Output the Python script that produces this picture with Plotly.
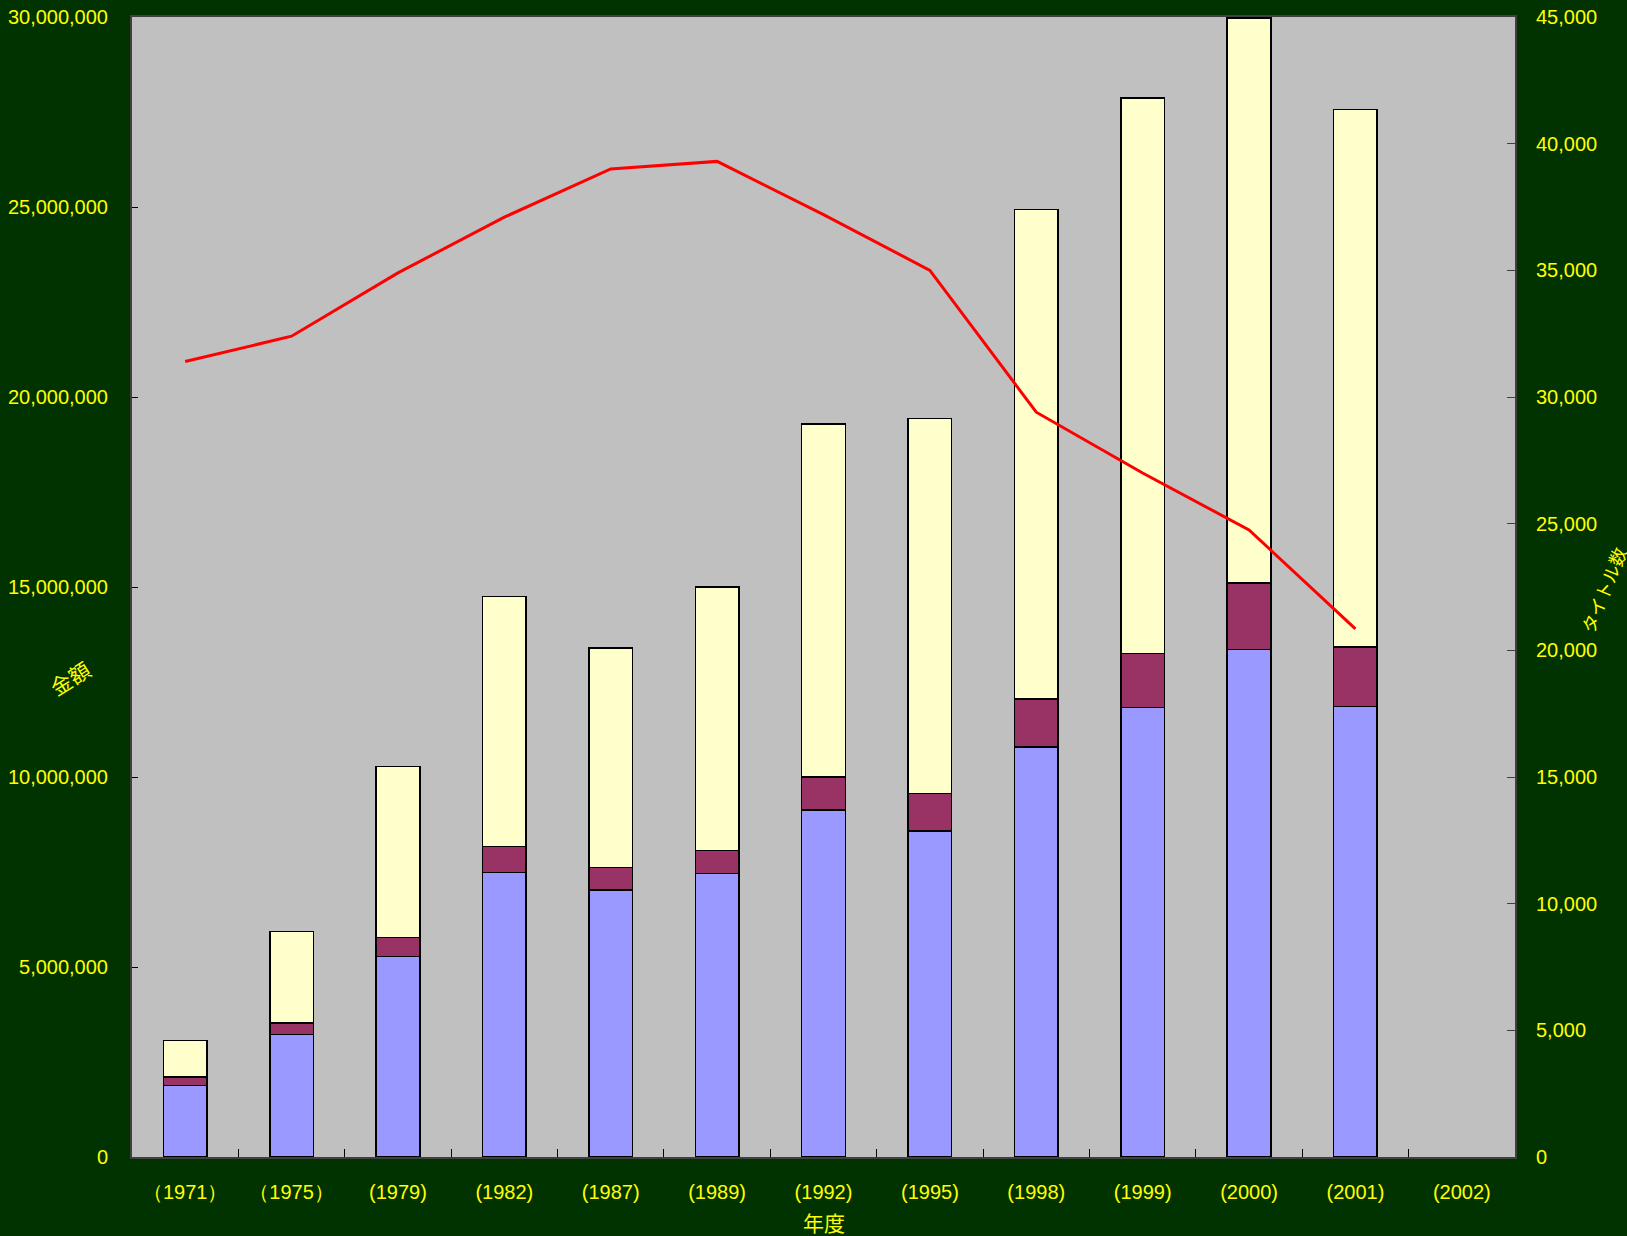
import plotly.graph_objects as go

years = ["（1971）", "（1975）", "(1979)", "(1982)", "(1987)", "(1989)", "(1992)",
         "(1995)", "(1998)", "(1999)", "(2000)", "(2001)", "(2002)"]

# cumulative tops
blue_top = [1885000, 3220000, 5270000, 7490000, 7020000, 7460000, 9130000,
            8580000, 10790000, 11830000, 13360000, 11860000, None]
maroon_top = [2100000, 3520000, 5770000, 8170000, 7620000, 8060000, 10000000,
              9560000, 12050000, 13250000, 15110000, 13420000, None]
yellow_top = [3060000, 5930000, 10270000, 14750000, 13390000, 15000000, 19290000,
              19430000, 24940000, 27870000, 29970000, 27570000, None]

titles = [31400, 32400, 34900, 37100, 39000, 39300, 37200,
          35000, 29400, 27000, 24750, 20850]

seg_blue = blue_top
seg_maroon = [None if m is None else m - b for m, b in zip(maroon_top, blue_top)]
seg_yellow = [None if y is None else y - m for y, m in zip(yellow_top, maroon_top)]

fig = go.Figure()
for vals, col in [(seg_blue, "#9999FF"), (seg_maroon, "#993366"), (seg_yellow, "#FFFFCC")]:
    fig.add_trace(go.Bar(x=years, y=vals, marker=dict(color=col, line=dict(color="#000000", width=1.5)),
                         showlegend=False))

fig.add_trace(go.Scatter(x=years[:12], y=titles, yaxis="y2", mode="lines",
                         line=dict(color="#FF0000", width=3), showlegend=False))

yellow = "#FFFF00"
fnt = dict(family="Liberation Sans, Arial, sans-serif", size=20, color=yellow)

fig.update_layout(
    width=1627, height=1236,
    margin=dict(l=132, r=112, t=17, b=79, autoexpand=False),
    paper_bgcolor="#003300", plot_bgcolor="#C0C0C0",
    barmode="stack", bargap=0.59,
    font=fnt,
    xaxis=dict(type="category", categoryorder="array", categoryarray=years,
               showgrid=False, ticks="inside", tickson="boundaries", ticklen=8,
               tickcolor="#000000", showline=True, linecolor="#404040", linewidth=2,
               mirror=True, tickfont=fnt, ticklabelstandoff=16, automargin=False),
    yaxis=dict(range=[0, 30000000], dtick=5000000, tickformat=",", showgrid=False,
               zeroline=False, ticks="inside", ticklen=6, tickcolor="#000000",
               showline=True, linecolor="#404040", linewidth=2, tickfont=fnt,
               ticklabelstandoff=18, automargin=False),
    yaxis2=dict(range=[0, 45000], dtick=5000, tickformat=",", overlaying="y", side="right",
                showgrid=False, zeroline=False, ticks="inside", ticklen=8, tickcolor="#404040",
                showline=True, linecolor="#404040", linewidth=2, tickfont=fnt,
                ticklabelstandoff=15, automargin=False),
)

jp = dict(family="Noto Sans CJK JP", size=21, color=yellow)
fig.add_annotation(text="年度", xref="paper", yref="paper", x=0.5, y=-0.057,
                   xanchor="center", yanchor="middle", showarrow=False, font=jp)
fig.add_annotation(text="金額", xref="paper", yref="paper", x=-0.045, y=0.42,
                   xanchor="center", yanchor="middle", showarrow=False, font=jp, textangle=-32)
fig.add_annotation(text="タイトル数", xref="paper", yref="paper", x=1.064, y=0.497,
                   xanchor="center", yanchor="middle", showarrow=False,
                   font=dict(family="Noto Sans CJK JP", size=18, color=yellow), textangle=-68)

fig.write_html("out.html")
